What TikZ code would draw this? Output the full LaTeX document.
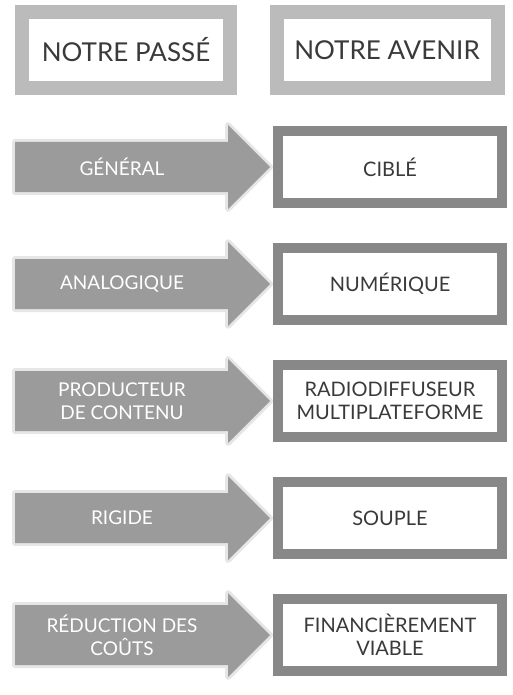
\documentclass[tikz,border=0pt]{standalone}
\usepackage{fontspec}
\setmainfont{Lato}
\usepackage{xcolor}
\definecolor{cBord}{HTML}{888888}
\definecolor{cTete}{HTML}{BBBBBB}
\definecolor{cFleche}{HTML}{9B9B9B}
\definecolor{cHalo}{HTML}{E6E6E6}
\definecolor{cTexte}{HTML}{3A3A3A}

\begin{document}
\begin{tikzpicture}[
  x=1pt,y=-1pt,
  tete/.style={draw=cTete,fill=white,line width=14pt,minimum height=76pt,
              inner sep=0pt,text=cTexte,font=\fontsize{26}{30}\selectfont},
  futur/.style={draw=cBord,fill=white,line width=10pt,minimum width=224pt,minimum height=72pt,
              inner sep=0pt,align=center,text=cTexte,font=\fontsize{20}{23}\selectfont},
  fleche/.style={fill=cFleche,preaction={draw=cHalo,line width=6pt,line join=round}},
  passe/.style={align=center,inner sep=0pt,text=white,font=\fontsize{19}{23}\selectfont}
]
\useasboundingbox (0,0) rectangle (512,695);

% ---- en-tetes
\node[tete,minimum width=208pt] (hp) at (126,50)  {NOTRE PASSÉ};
\node[tete,minimum width=221pt] (ha) at (387,50)  {NOTRE AVENIR};

% ---- fleches (passe)
\fill[fleche] (15,142) -- (228,142) -- (228,125) -- (270,167) -- (228,209) -- (228,192) -- (15,192) -- cycle;
\fill[fleche] (15,259) -- (228,259) -- (228,242) -- (270,284) -- (228,326) -- (228,309) -- (15,309) -- cycle;
\fill[fleche] (15,371) -- (228,371) -- (228,359) -- (270,401) -- (228,443) -- (228,431) -- (15,431) -- cycle;
\fill[fleche] (15,493) -- (228,493) -- (228,476) -- (270,518) -- (228,560) -- (228,543) -- (15,543) -- cycle;
\fill[fleche] (15,605) -- (228,605) -- (228,593) -- (270,635) -- (228,677) -- (228,665) -- (15,665) -- cycle;

\node[passe] (p1) at (122,167) {GÉNÉRAL};
\node[passe] (p2) at (122,284) {ANALOGIQUE};
\node[passe] (p3) at (122,401) {PRODUCTEUR\\ DE CONTENU};
\node[passe] (p4) at (122,518) {RIGIDE};
\node[passe] (p5) at (122,635) {RÉDUCTION DES\\ COÛTS};

% ---- boites (avenir)
\node[futur] (a1) at (390,167) {CIBLÉ};
\node[futur] (a2) at (390,284) {NUMÉRIQUE};
\node[futur] (a3) at (390,401) {RADIODIFFUSEUR\\ MULTIPLATEFORME};
\node[futur] (a4) at (390,518) {SOUPLE};
\node[futur] (a5) at (390,635) {FINANCIÈREMENT\\ VIABLE};
\end{tikzpicture}
\end{document}
